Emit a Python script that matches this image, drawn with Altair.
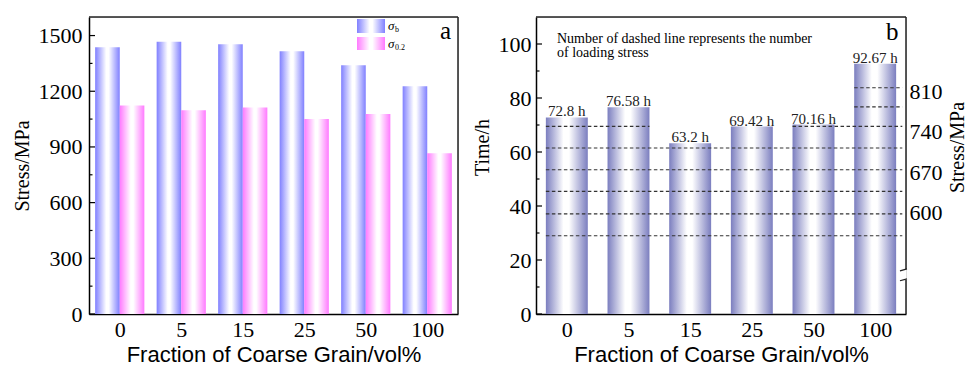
import json
import altair as alt
import pandas as pd

# ---------------- data ----------------
categories = ["0", "5", "15", "25", "50", "100"]
sigma_b = [1437, 1466, 1453, 1415, 1340, 1227]
sigma_02 = [1123, 1098, 1112, 1050, 1077, 866]
time_h = [72.8, 76.58, 63.2, 69.42, 70.16, 92.67]
time_text = ["72.8 h", "76.58 h", "63.2 h", "69.42 h", "70.16 h", "92.67 h"]
stress_line_count = [6, 6, 5, 5, 6, 8]
dashed_line_h = [29.0, 37.1, 45.4, 53.4, 61.5, 69.5, 76.7, 83.8]
stress_a_ticks = [0, 300, 600, 900, 1200, 1500]
stress_a_minor = [150, 450, 750, 1050, 1350]
time_ticks = [0, 20, 40, 60, 80, 100]
time_minor = [10, 30, 50, 70, 90]
stress_b_ticks = [600, 670, 740, 810]
axis_break_h = [12.6, 16.7]

SERIF = "Liberation Serif"
SANS = "Liberation Sans"
W_A, W_B, H = 369, 370, 297
N = len(categories)
TICK_FS = 22


def grad(edge, lo=0.45, hi=0.55):
    return alt.Gradient(
        gradient="linear", x1=0, x2=1, y1=0, y2=0,
        stops=[alt.GradientStop(color=edge, offset=0),
               alt.GradientStop(color="#ffffff", offset=lo),
               alt.GradientStop(color="#ffffff", offset=hi),
               alt.GradientStop(color=edge, offset=1)])


label_expr = json.dumps(categories) + "[datum.value]"
x_scale = alt.Scale(domain=[-0.5, N - 0.5], nice=False, zero=False)

X_AXIS = alt.Axis(values=list(range(N)), labelExpr=label_expr, ticks=False, grid=False,
                  domainColor="black", domainWidth=1.5, labelFont=SERIF, labelFontSize=TICK_FS,
                  labelColor="black", labelPadding=5, labelAngle=0,
                  title="Fraction of Coarse Grain/vol%", titleFont=SANS, titleFontSize=22,
                  titleFontWeight="normal", titleColor="black", titlePadding=4)


def y_axis(values, title, **kw):
    return alt.Axis(values=values, format="d", ticks=False, grid=False, domainColor="black",
                    domainWidth=1.5, labelFont=SERIF, labelFontSize=TICK_FS, labelColor="black",
                    title=title, titleFont=SERIF, titleFontSize=20, titleFontWeight="normal",
                    titleColor="black", **kw)


dummy = pd.DataFrame({"d": [0]})


def inward_ticks(major, minor, ysc, yax):
    a = alt.Chart(pd.DataFrame({"v": major})).mark_rule(color="black", strokeWidth=1.2).encode(
        x=alt.value(0), x2=alt.value(6), y=alt.Y("v:Q", scale=ysc, axis=yax))
    b = alt.Chart(pd.DataFrame({"v": minor})).mark_rule(color="black", strokeWidth=1.2).encode(
        x=alt.value(0), x2=alt.value(3.5), y=alt.Y("v:Q", scale=ysc, axis=yax))
    return [a, b]


def top_line(width):
    return alt.Chart(dummy).mark_rule(color="#222222", strokeWidth=1.5).encode(
        x=alt.value(0), x2=alt.value(width), y=alt.value(0))


# ---------------- panel a ----------------
df_a = pd.DataFrame({"i": list(range(N)), "sb": sigma_b, "s02": sigma_02, "zero": [0] * N})
ya_scale = alt.Scale(domain=[0, 1600], nice=False)
YA_AXIS = y_axis(stress_a_ticks, "Stress/MPa", labelPadding=7, titlePadding=6)

blue = alt.Chart(df_a).mark_bar(color=grad("#8080ff")).transform_calculate(
    x0="datum.i - 0.4", x1="datum.i").encode(
    x=alt.X("x0:Q", scale=x_scale, axis=X_AXIS), x2="x1:Q",
    y=alt.Y("sb:Q", scale=ya_scale, axis=YA_AXIS), y2="zero:Q")
pink = alt.Chart(df_a).mark_bar(color=grad("#ff7aff")).transform_calculate(
    x0="datum.i", x1="datum.i + 0.4").encode(
    x=alt.X("x0:Q", scale=x_scale, axis=X_AXIS), x2="x1:Q",
    y=alt.Y("s02:Q", scale=ya_scale, axis=YA_AXIS), y2="zero:Q")

right_a = alt.Chart(dummy).mark_rule(color="#222222", strokeWidth=1.5).encode(
    x=alt.value(W_A), y=alt.value(0), y2=alt.value(H))

sw_b = alt.Chart(dummy).mark_rect(color=grad("#8080ff")).encode(
    x=alt.value(268), x2=alt.value(296), y=alt.value(2), y2=alt.value(16))
sw_p = alt.Chart(dummy).mark_rect(color=grad("#ff7aff")).encode(
    x=alt.value(268), x2=alt.value(296), y=alt.value(20), y2=alt.value(33))


def free_text(txt, x, y, size, style="normal"):
    return alt.Chart(dummy).mark_text(text=txt, font=SERIF, fontSize=size, fontStyle=style,
                                      align="left", baseline="alphabetic", color="black").encode(
        x=alt.value(x), y=alt.value(y))


leg = [free_text("σ", 299, 13, 13, "italic"), free_text("b", 306, 15, 8),
       free_text("σ", 299, 31, 13, "italic"), free_text("0.2", 306, 33, 8)]
lab_a = free_text("a", 351, 22, 25)

panel_a = alt.layer(blue, pink, *inward_ticks(stress_a_ticks, stress_a_minor, ya_scale, YA_AXIS),
                    top_line(W_A), right_a, sw_b, sw_p, *leg, lab_a).properties(width=W_A, height=H)

# ---------------- panel b ----------------
df_b = pd.DataFrame({"i": list(range(N)), "t": time_h, "lab": time_text, "zero": [0] * N})
yb_scale = alt.Scale(domain=[0, 110], nice=False)
YB_AXIS = y_axis(time_ticks, "Time/h", labelPadding=5, titlePadding=6, titleY=130)

bars_b = alt.Chart(df_b).mark_bar(color=grad("#7b7ebf", 0.42, 0.55)).transform_calculate(
    x0="datum.i - 0.34", x1="datum.i + 0.34").encode(
    x=alt.X("x0:Q", scale=x_scale, axis=X_AXIS), x2="x1:Q",
    y=alt.Y("t:Q", scale=yb_scale, axis=YB_AXIS), y2="zero:Q")

text_b = alt.Chart(df_b).mark_text(font=SERIF, fontSize=15, baseline="alphabetic", dy=-1,
                                   color="#222222").encode(
    x=alt.X("i:Q", scale=x_scale, axis=X_AXIS), y=alt.Y("t:Q", scale=yb_scale, axis=YB_AXIS),
    text="lab:N")

seg_rows = []
for k, lvl in enumerate(dashed_line_h, start=1):
    start = None
    for i, c in enumerate(stress_line_count):
        if c >= k:
            if start is None:
                start = i
            if i == N - 1 or stress_line_count[i + 1] < k:
                seg_rows.append({"lvl": lvl, "a": start, "b": i})
                start = None
df_seg = pd.DataFrame(seg_rows)
dashes = alt.Chart(df_seg).mark_rule(color="#333333", strokeWidth=1.1,
                                     strokeDash=[3.5, 2.5]).transform_calculate(
    x0="datum.a - 0.34", x1=f"datum.b == {N - 1} ? {N - 1} + 0.44 : datum.b + 0.34").encode(
    x=alt.X("x0:Q", scale=x_scale, axis=X_AXIS), x2="x1:Q",
    y=alt.Y("lvl:Q", scale=yb_scale, axis=YB_AXIS))

df_right = pd.DataFrame({"y0": [110, axis_break_h[0]], "y1": [axis_break_h[1], 0]})
right_b = alt.Chart(df_right).mark_rule(color="#222222", strokeWidth=1.5).encode(
    x=alt.value(W_B), y=alt.Y("y0:Q", scale=yb_scale, axis=YB_AXIS), y2="y1:Q")
df_brk = pd.DataFrame({"y0": [axis_break_h[1] - 0.7, axis_break_h[0] - 0.3],
                       "y1": [axis_break_h[1], axis_break_h[0] + 0.4]})
brk = alt.Chart(df_brk).mark_rule(color="#222222", strokeWidth=1.2).encode(
    x=alt.value(W_B - 6), x2=alt.value(W_B + 1),
    y=alt.Y("y0:Q", scale=yb_scale, axis=YB_AXIS), y2="y1:Q")

note1 = free_text("Number of dashed line represents the number", 21, 26, 14)
note2 = free_text("of loading stress", 21, 40, 14)
lab_b = free_text("b", 350, 23, 25)

time_layers = alt.layer(bars_b, dashes, text_b,
                        *inward_ticks(time_ticks, time_minor, yb_scale, YB_AXIS),
                        top_line(W_B), right_b, brk, note1, note2, lab_b)

stress_axis = alt.Chart(pd.DataFrame({"s": stress_b_ticks})).mark_point(opacity=0).encode(
    y=alt.Y("s:Q", scale=alt.Scale(domain=[425, 938], nice=False, zero=False),
            axis=alt.Axis(orient="right", values=stress_b_ticks, ticks=False, domain=False,
                          grid=False, labelFont=SERIF, labelFontSize=TICK_FS, labelColor="black",
                          labelPadding=3, title="Stress/MPa", titleFont=SERIF, titleFontSize=20,
                          titleFontWeight="normal", titleColor="black", titleAngle=270,
                          titleBaseline="top", titleY=130, titlePadding=5)))

panel_b = alt.layer(time_layers, stress_axis).resolve_scale(y="independent").properties(
    width=W_B, height=H)

chart = alt.hconcat(panel_a, panel_b, spacing=11).properties(
    padding={"left": 11, "top": 15, "right": 0, "bottom": 0}
).configure_view(stroke=None).configure(background="white")

chart.save("out.html", embed_options={"renderer": "svg", "actions": False})
